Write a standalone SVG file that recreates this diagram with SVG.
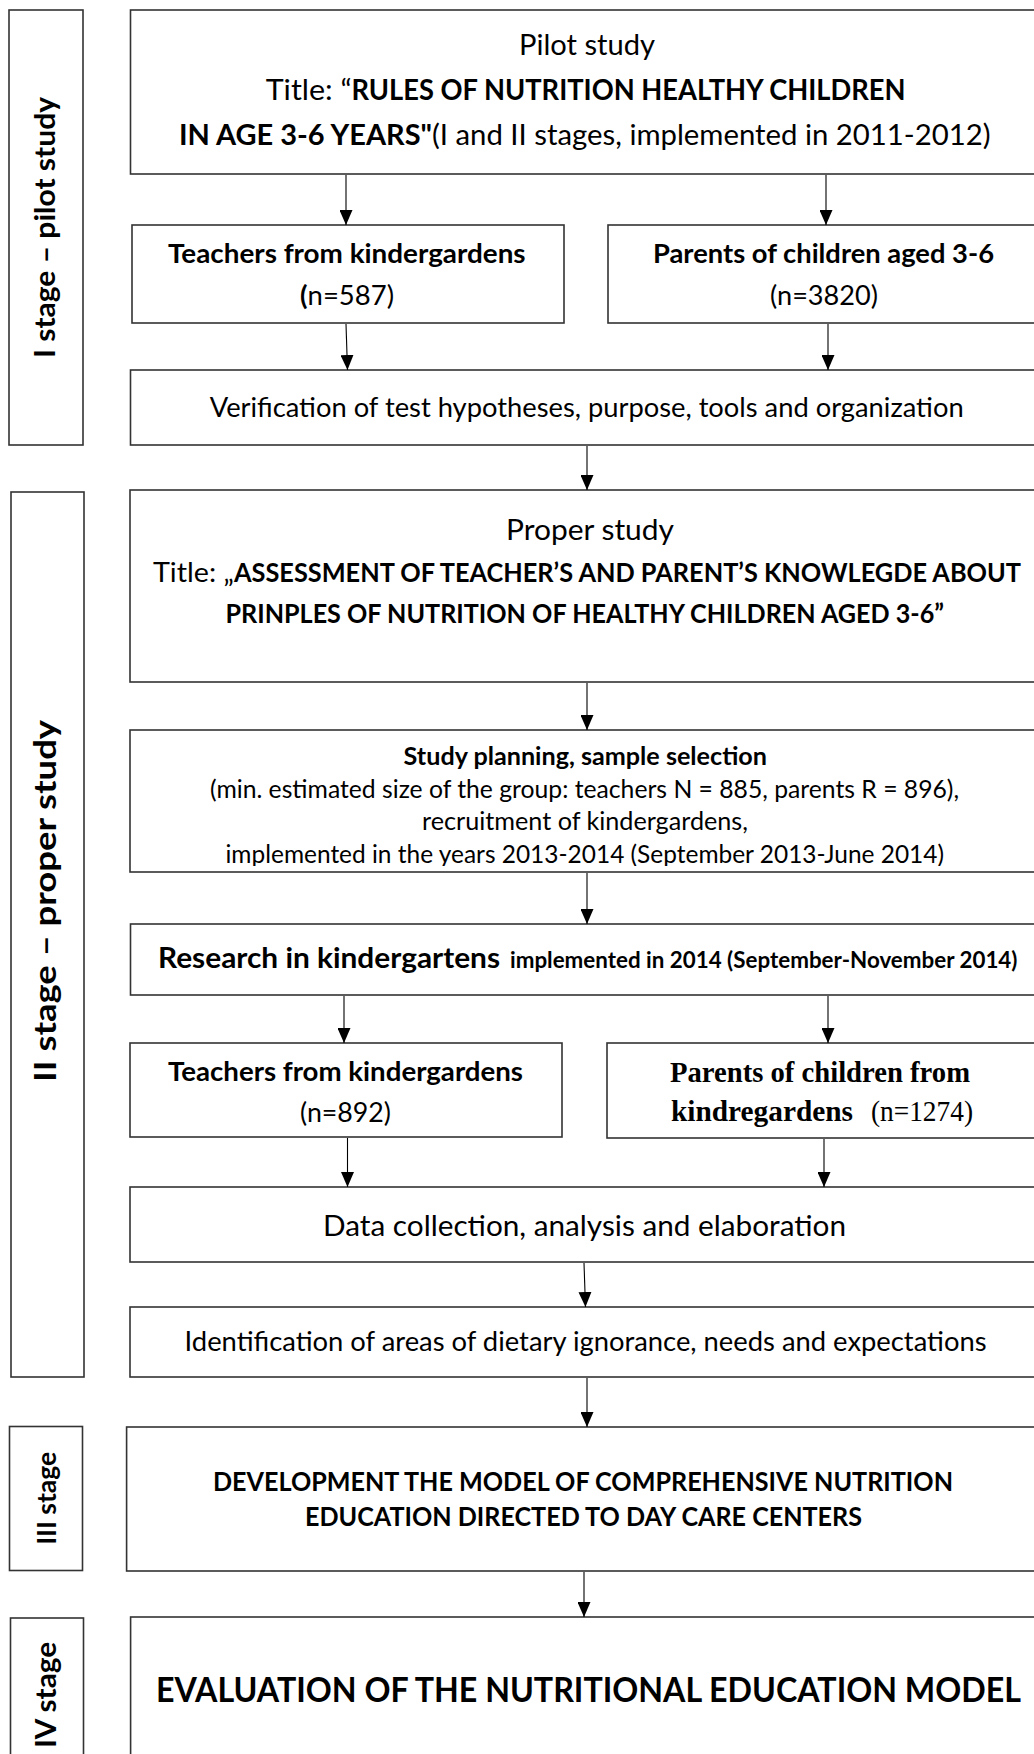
<svg xmlns="http://www.w3.org/2000/svg" width="1034" height="1754" viewBox="0 0 1034 1754">
<style>
.box{fill:#fff;stroke:#333;stroke-width:1.6}
.t{font-family:Lato,"Open Sans","Liberation Sans",sans-serif;fill:#000}
.b{font-weight:bold}
.serif{font-family:"Liberation Serif","Times New Roman",serif;fill:#000}
.conn line{stroke:#000;stroke-width:1.1;marker-end:url(#ah)}
</style>
<defs>
<marker id="ah" markerUnits="userSpaceOnUse" markerWidth="15" markerHeight="13" refX="15" refY="6.5" orient="auto">
<path d="M0,0 L15,6.5 L0,13 z" fill="#000"/>
</marker>
<clipPath id="clipPlan"><rect x="130" y="730" width="910" height="136"/></clipPath>
</defs>
<rect width="1034" height="1754" fill="#fff"/>

<g id="stage1">
<rect class="box" x="9" y="10" width="74" height="435"/>
<text class="t b" x="55" y="227.5" font-size="28" text-anchor="middle" textLength="261" lengthAdjust="spacingAndGlyphs" transform="rotate(-90 55 227.5)">I stage – pilot study</text>
</g>
<g id="stage2">
<rect class="box" x="11" y="492" width="73" height="885"/>
<text class="t b" x="56" y="901" font-size="30" text-anchor="middle" textLength="362" lengthAdjust="spacingAndGlyphs" transform="rotate(-90 56 901)">II stage – proper study</text>
</g>
<g id="stage3">
<rect class="box" x="9.5" y="1426.5" width="73" height="144"/>
<text class="t b" x="56.5" y="1498.3" font-size="27" text-anchor="middle" textLength="93" lengthAdjust="spacingAndGlyphs" transform="rotate(-90 56.5 1498.3)">III stage</text>
</g>
<g id="stage4">
<rect class="box" x="10.5" y="1618" width="73" height="200"/>
<text class="t b" x="56" y="1695" font-size="28" text-anchor="middle" textLength="106" lengthAdjust="spacingAndGlyphs" transform="rotate(-90 56 1695)">IV stage</text>
</g>

<g id="pilot">
<rect class="box" x="130.5" y="10" width="910" height="164"/>
<text class="t" x="519" y="55" font-size="29" textLength="136" lengthAdjust="spacingAndGlyphs">Pilot study</text>
<text class="t" y="100" font-size="29"><tspan x="265.7" textLength="86" lengthAdjust="spacingAndGlyphs">Title: “</tspan><tspan class="b" x="351.5" textLength="554" lengthAdjust="spacingAndGlyphs">RULES OF NUTRITION HEALTHY CHILDREN</tspan></text>
<text class="t" y="145" font-size="29"><tspan class="b" x="179" textLength="253" lengthAdjust="spacingAndGlyphs">IN AGE 3-6 YEARS"</tspan><tspan x="432" textLength="558.5" lengthAdjust="spacingAndGlyphs">(I and II stages, implemented in 2011-2012)</tspan></text>
</g>

<g id="teachers1">
<rect class="box" x="132" y="225" width="432" height="98"/>
<text class="t b" x="168" y="263" font-size="27" textLength="357.6" lengthAdjust="spacingAndGlyphs">Teachers from kindergardens</text>
<text class="t" x="300" y="305" font-size="27" textLength="94" lengthAdjust="spacingAndGlyphs"><tspan class="b">(</tspan>n=587)</text>
</g>
<g id="parents1">
<rect class="box" x="608" y="225" width="432" height="98"/>
<text class="t b" x="653" y="263" font-size="27" textLength="341" lengthAdjust="spacingAndGlyphs">Parents of children aged 3-6</text>
<text class="t" x="770" y="305" font-size="27" textLength="108" lengthAdjust="spacingAndGlyphs">(n=3820)</text>
</g>

<g id="verification">
<rect class="box" x="130.5" y="370" width="910" height="75"/>
<text class="t" x="209.7" y="417" font-size="27" textLength="754" lengthAdjust="spacingAndGlyphs">Verification of test hypotheses, purpose, tools and organization</text>
</g>

<g id="proper">
<rect class="box" x="130" y="490" width="910" height="192"/>
<text class="t" x="506" y="540" font-size="29.5" textLength="168" lengthAdjust="spacingAndGlyphs">Proper study</text>
<text class="t" y="582" font-size="27"><tspan x="153" textLength="81" lengthAdjust="spacingAndGlyphs">Title: „</tspan><tspan class="b" x="234" textLength="787" lengthAdjust="spacingAndGlyphs">ASSESSMENT OF TEACHER’S AND PARENT’S KNOWLEGDE ABOUT</tspan></text>
<text class="t b" x="225.5" y="623" font-size="27" textLength="718.5" lengthAdjust="spacingAndGlyphs">PRINPLES OF NUTRITION OF HEALTHY CHILDREN AGED 3-6”</text>
</g>

<g id="planning">
<rect class="box" x="130" y="730" width="910" height="142"/>
<text class="t b" x="403.6" y="765" font-size="24.5" textLength="363.4" lengthAdjust="spacingAndGlyphs">Study planning, sample selection</text>
<text class="t" x="210" y="798" font-size="24.5" textLength="749" lengthAdjust="spacingAndGlyphs">(min. estimated size of the group: teachers N = 885, parents R = 896),</text>
<text class="t" x="422" y="830" font-size="24.5" textLength="326" lengthAdjust="spacingAndGlyphs">recruitment of kindergardens,</text>
<text class="t" x="225.5" y="863" font-size="24.5" textLength="718.5" lengthAdjust="spacingAndGlyphs" clip-path="url(#clipPlan)">implemented in the years 2013-2014 (September 2013-June 2014)</text>
</g>

<g id="research">
<rect class="box" x="130.5" y="924" width="910" height="71"/>
<text class="t b" y="968"><tspan x="158" font-size="29" textLength="342" lengthAdjust="spacingAndGlyphs">Research in kindergartens</tspan><tspan x="510" font-size="22" textLength="507.5" lengthAdjust="spacingAndGlyphs">implemented in 2014 (September-November 2014)</tspan></text>
</g>

<g id="teachers2">
<rect class="box" x="130" y="1043" width="432" height="94"/>
<text class="t b" x="168" y="1081" font-size="27" textLength="355" lengthAdjust="spacingAndGlyphs">Teachers from kindergardens</text>
<text class="t" x="300" y="1122" font-size="27" textLength="91" lengthAdjust="spacingAndGlyphs">(n=892)</text>
</g>
<g id="parents2">
<rect class="box" x="607" y="1043" width="433" height="95"/>
<text class="serif b" x="670" y="1082" font-size="29" textLength="300" lengthAdjust="spacingAndGlyphs">Parents of children from</text>
<text class="serif" y="1121" font-size="29"><tspan class="b" x="671" textLength="182" lengthAdjust="spacingAndGlyphs">kindregardens</tspan><tspan x="871" textLength="102" lengthAdjust="spacingAndGlyphs">(n=1274)</tspan></text>
</g>

<g id="data">
<rect class="box" x="130" y="1187" width="910" height="75"/>
<text class="t" x="323" y="1236" font-size="29" textLength="523" lengthAdjust="spacingAndGlyphs">Data collection, analysis and elaboration</text>
</g>

<g id="identification">
<rect class="box" x="130" y="1307" width="910" height="70"/>
<text class="t" x="184.6" y="1351" font-size="27" textLength="802" lengthAdjust="spacingAndGlyphs">Identification of areas of dietary ignorance, needs and expectations</text>
</g>

<g id="development">
<rect class="box" x="126.6" y="1427" width="914" height="144"/>
<text class="t b" x="213" y="1490.5" font-size="27" textLength="740" lengthAdjust="spacingAndGlyphs">DEVELOPMENT THE MODEL OF COMPREHENSIVE NUTRITION</text>
<text class="t b" x="305" y="1526" font-size="27" textLength="557" lengthAdjust="spacingAndGlyphs">EDUCATION DIRECTED TO DAY CARE CENTERS</text>
</g>

<g id="evaluation">
<rect class="box" x="130.6" y="1617" width="910" height="200"/>
<text class="t b" x="156" y="1701.5" font-size="34" textLength="865" lengthAdjust="spacingAndGlyphs">EVALUATION OF THE NUTRITIONAL EDUCATION MODEL</text>
</g>

<g id="connectors" class="conn">
<line x1="346" y1="175" x2="346" y2="225"/>
<line x1="826" y1="175" x2="826" y2="225"/>
<line x1="346" y1="324" x2="347.5" y2="370"/>
<line x1="828" y1="324" x2="828" y2="370"/>
<line x1="587" y1="446" x2="587" y2="490"/>
<line x1="587" y1="683" x2="587" y2="730"/>
<line x1="587" y1="873" x2="587" y2="924"/>
<line x1="344" y1="996" x2="344" y2="1043"/>
<line x1="828" y1="996" x2="828" y2="1043"/>
<line x1="347.5" y1="1138" x2="347.5" y2="1187"/>
<line x1="824" y1="1139" x2="824" y2="1187"/>
<line x1="584" y1="1263" x2="585.5" y2="1307"/>
<line x1="587" y1="1378" x2="587" y2="1427"/>
<line x1="584" y1="1572" x2="584" y2="1617"/>
</g>
</svg>
